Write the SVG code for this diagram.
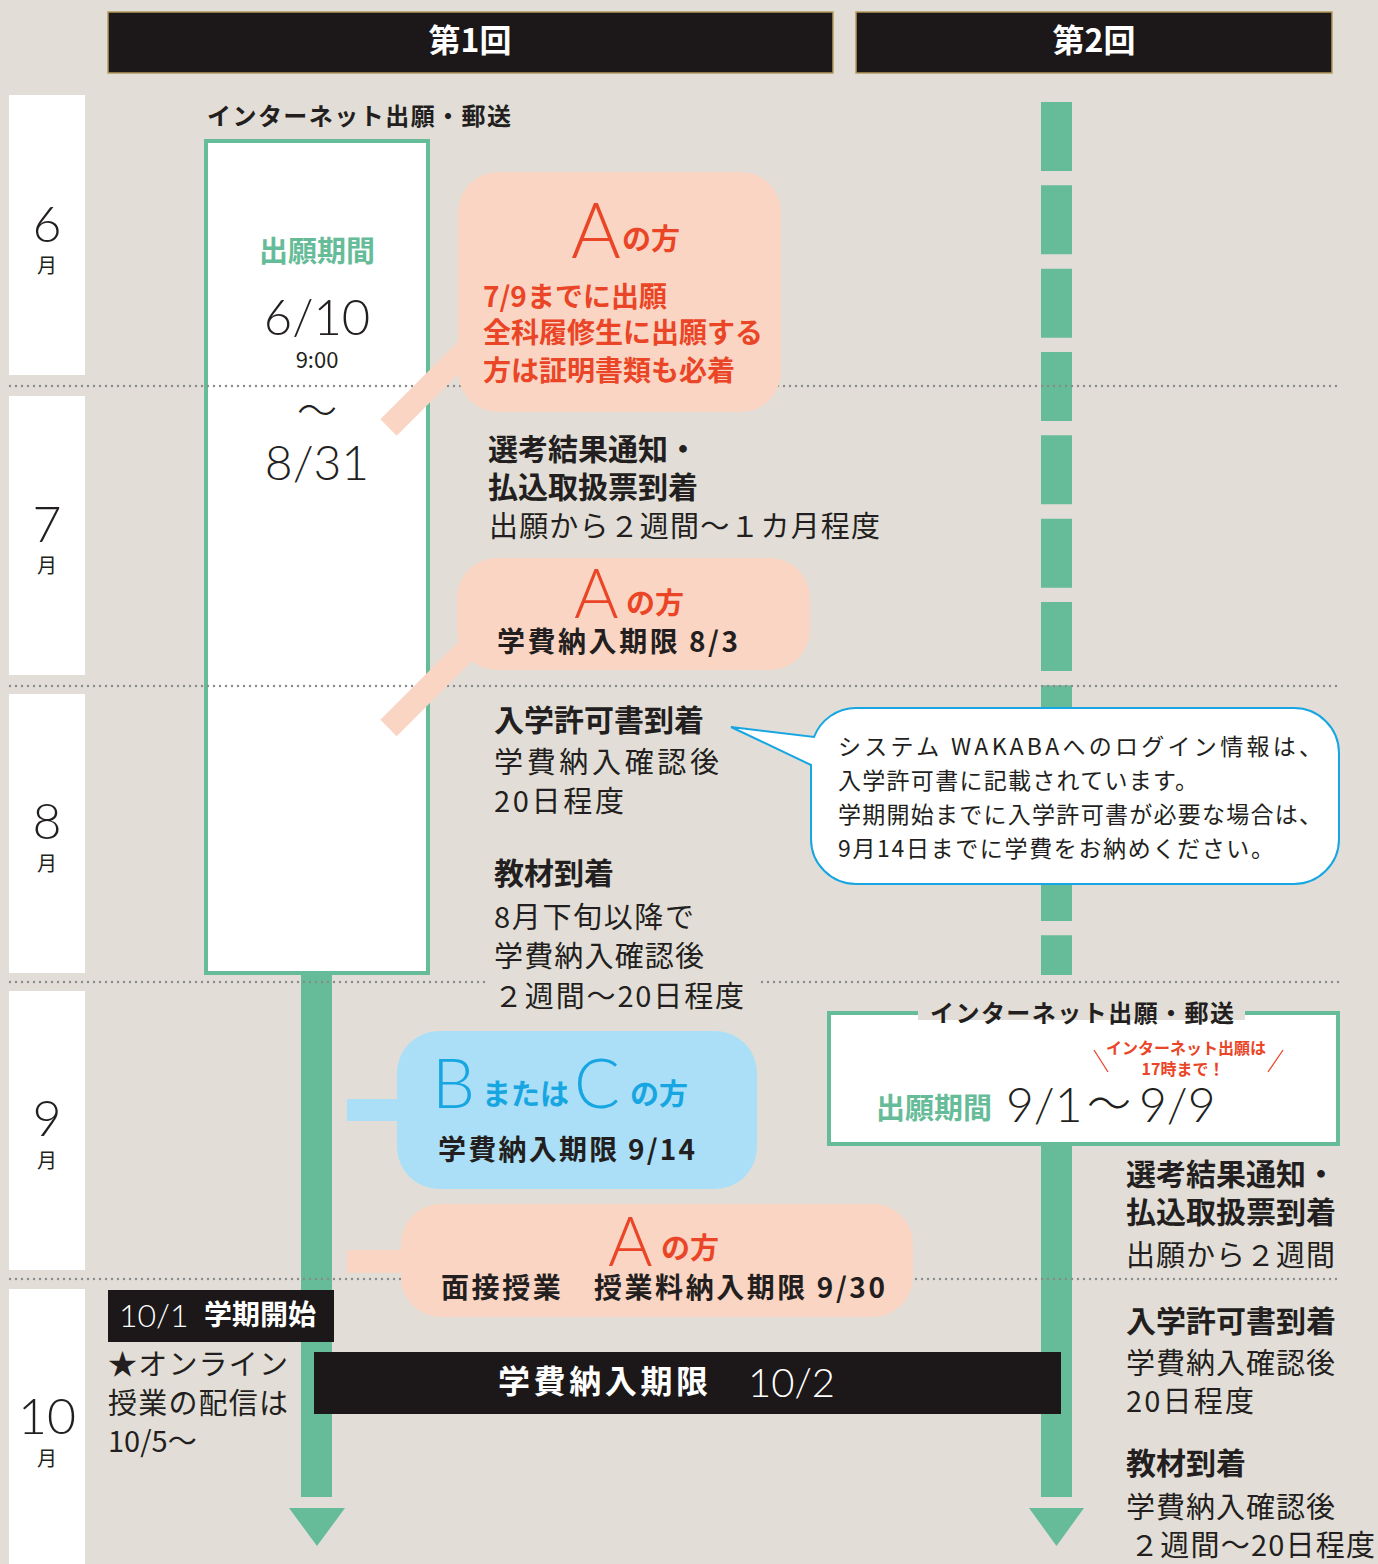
<svg xmlns="http://www.w3.org/2000/svg" width="1378" height="1564" viewBox="0 0 1378 1564">
<style>
text{font-family:"Noto Sans CJK JP","Noto Sans",sans-serif;fill:#231f20}
.b{font-weight:700}
.lt{font-family:Lato,"Noto Sans CJK JP",sans-serif;font-weight:300}
.red{fill:#ea4526}
.blu{fill:#17a6e2}
.grn{fill:#66bc98}
.wht{fill:#fff}
.mon{fill:#fff}
.dot{stroke:#8a8a8a;stroke-width:2.4;stroke-dasharray:0 6;stroke-linecap:round;fill:none}
.sal{fill:#fbd5c3}
.lb{fill:#aadff7}
.hdr{fill:#1c1718;stroke:#b59a5e;stroke-width:1.5}
.gbox{fill:#fff;stroke:#66bc98;stroke-width:4}
.gline{fill:#66bc98}
</style>
<rect width="1378" height="1564" fill="#e2ded7"/>
<g id="months">
<rect class="mon" x="9" y="95" width="76" height="280"/>
<rect class="mon" x="9" y="396" width="76" height="279"/>
<rect class="mon" x="9" y="694" width="76" height="279"/>
<rect class="mon" x="9" y="991" width="76" height="279"/>
<rect class="mon" x="9" y="1289" width="76" height="275"/>
<g text-anchor="middle">
<text class="lt" x="47" y="242" font-size="50">6</text><text x="47" y="273" font-size="20">月</text>
<text class="lt" x="47" y="542" font-size="50">7</text><text x="47" y="573" font-size="20">月</text>
<text class="lt" x="47" y="839" font-size="50">8</text><text x="47" y="871" font-size="20">月</text>
<text class="lt" x="47" y="1136" font-size="50">9</text><text x="47" y="1168" font-size="20">月</text>
<text class="lt" x="47" y="1434" font-size="50">10</text><text x="47" y="1466" font-size="20">月</text>
</g>
</g>
<g id="header1"><rect class="hdr" x="108" y="12" width="725" height="61"/><text class="b wht" x="470" y="52" font-size="32" text-anchor="middle">第1回</text></g>
<g id="header2"><rect class="hdr" x="856" y="12" width="476" height="61"/><text class="b wht" x="1094" y="52" font-size="32" text-anchor="middle">第2回</text></g>

<g id="connectors">
<rect class="gline" x="301" y="973" width="31" height="524"/>
<polygon class="gline" points="289,1508 345,1508 317,1546"/>
<line x1="1056.5" y1="102" x2="1056.5" y2="975" stroke="#66bc98" stroke-width="31" stroke-dasharray="69 14.33"/>
<rect class="gline" x="1041" y="1144" width="31" height="353"/>
<polygon class="gline" points="1029,1508 1084,1508 1056.5,1546"/>
</g>

<g id="period1">
<text class="b" x="207" y="125" font-size="24" textLength="304" lengthAdjust="spacing">インターネット出願・郵送</text>
<rect class="gbox" x="206" y="141" width="222" height="832"/>
</g>

<g id="dotted">
<line class="dot" x1="10" y1="386" x2="1340" y2="386"/>
<line class="dot" x1="10" y1="686" x2="1340" y2="686"/>
<line class="dot" x1="10" y1="982" x2="490" y2="982"/>
<line class="dot" x1="762" y1="982" x2="1340" y2="982"/>
<line class="dot" x1="10" y1="1279" x2="1340" y2="1279"/>
</g>

<g id="period1-text" text-anchor="middle">
<text class="b grn" x="317" y="262" font-size="29">出願期間</text>
<text class="lt" x="317" y="335" font-size="49">6/10</text>
<text x="317" y="368" font-size="22">9:00</text>
<text class="lt" x="317" y="425" font-size="40">～</text>
<text class="lt" x="317" y="480" font-size="48">8/31</text>
</g>

<g id="bubbleA1">
<line x1="388.5" y1="427.5" x2="475" y2="341" stroke="#fbd5c3" stroke-width="23"/>
<rect class="sal" x="458" y="172" width="323" height="240" rx="40"/>
<text class="lt red" x="571" y="258" font-size="76">A</text>
<text class="b red" x="622" y="250" font-size="29">の方</text>
<text class="b red" x="483" y="307" font-size="28">7/9までに出願</text>
<text class="b red" x="483" y="343" font-size="28">全科履修生に出願する</text>
<text class="b red" x="483" y="381" font-size="28">方は証明書類も必着</text>
</g>

<g id="result1">
<text class="b" x="488" y="460" font-size="30">選考結果通知・</text>
<text class="b" x="488" y="498" font-size="30">払込取扱票到着</text>
<text x="489" y="537" font-size="29" textLength="391" lengthAdjust="spacing">出願から２週間～１カ月程度</text>
</g>

<g id="bubbleA2">
<line x1="388.5" y1="728" x2="475" y2="641.5" stroke="#fbd5c3" stroke-width="23"/>
<rect class="sal" x="457" y="558" width="353" height="112" rx="40"/>
<text class="lt red" x="574" y="618" font-size="68">A</text>
<text class="b red" x="626" y="614" font-size="29">の方</text>
<text class="b" x="497" y="652" font-size="28" textLength="241" lengthAdjust="spacing">学費納入期限 8/3</text>
</g>

<g id="admit1">
<text class="b" x="494" y="731" font-size="30">入学許可書到着</text>
<text x="494" y="773" font-size="29" textLength="225" lengthAdjust="spacing">学費納入確認後</text>
<text x="494" y="812" font-size="29" textLength="130" lengthAdjust="spacing">20日程度</text>
<text class="b" x="494" y="884" font-size="30">教材到着</text>
<text x="494" y="928" font-size="29" textLength="200" lengthAdjust="spacing">8月下旬以降で</text>
<text x="494" y="967" font-size="29" textLength="210" lengthAdjust="spacing">学費納入確認後</text>
<text x="494" y="1007" font-size="29" textLength="250" lengthAdjust="spacing">２週間～20日程度</text>
</g>

<g id="callout">
<path d="M856,708 H1294 A45,45 0 0 1 1339,753 V839 A45,45 0 0 1 1294,884 H856 A45,45 0 0 1 811,839 V765 L731,727 L814,737 A45,45 0 0 1 856,708 Z" fill="#fff" stroke="#17a6e2" stroke-width="2"/>
<text x="838" y="755" font-size="23" fill="#333" textLength="484" lengthAdjust="spacing">システム WAKABAへのログイン情報は、</text>
<text x="838" y="789" font-size="23" fill="#333" textLength="360" lengthAdjust="spacing">入学許可書に記載されています。</text>
<text x="838" y="823" font-size="23" fill="#333" textLength="484" lengthAdjust="spacing">学期開始までに入学許可書が必要な場合は、</text>
<text x="838" y="857" font-size="23" fill="#333" textLength="436" lengthAdjust="spacing">9月14日までに学費をお納めください。</text>
</g>

<g id="period2">
<rect class="gbox" x="829" y="1013" width="509" height="131"/>
<rect x="918" y="1006" width="327" height="14" fill="#e2ded7"/>
<text class="b" x="930" y="1022" font-size="24" textLength="304" lengthAdjust="spacing">インターネット出願・郵送</text>
<text class="b red" x="1186" y="1054" font-size="16" text-anchor="middle">インターネット出願は</text>
<text class="b red" x="1183" y="1075" font-size="16" text-anchor="middle">17時まで！</text>
<line x1="1094" y1="1050" x2="1108" y2="1072" stroke="#ea4526" stroke-width="1.3"/>
<line x1="1283" y1="1050" x2="1268" y2="1072" stroke="#ea4526" stroke-width="1.3"/>
<text class="b grn" x="876" y="1119" font-size="29">出願期間</text>
<text class="lt" x="1006" y="1122" font-size="48">9/1</text>
<text class="lt" x="1087" y="1120" font-size="44">～</text>
<text class="lt" x="1139" y="1122" font-size="48">9/9</text>
</g>

<g id="bubbleBC">
<rect class="lb" x="347" y="1099" width="60" height="22"/>
<rect class="lb" x="397" y="1031" width="360" height="158" rx="42"/>
<text class="lt blu" x="432" y="1108" font-size="68">B</text>
<text class="b blu" x="482" y="1105" font-size="29">または</text>
<text class="lt blu" x="574" y="1108" font-size="68">C</text>
<text class="b blu" x="630" y="1105" font-size="29">の方</text>
<text class="b" x="438" y="1160" font-size="28" textLength="257" lengthAdjust="spacing">学費納入期限 9/14</text>
</g>

<g id="bubbleA3">
<rect class="sal" x="347" y="1250" width="60" height="23"/>
<rect class="sal" x="401" y="1204" width="512" height="113" rx="40"/>
<text class="lt red" x="608" y="1266" font-size="68">A</text>
<text class="b red" x="661" y="1259" font-size="29">の方</text>
<text class="b" x="441" y="1298" font-size="28" textLength="444" lengthAdjust="spacing">面接授業　授業料納入期限 9/30</text>
</g>

<g id="result2">
<text class="b" x="1126" y="1185" font-size="30">選考結果通知・</text>
<text class="b" x="1126" y="1223" font-size="30">払込取扱票到着</text>
<text x="1126" y="1266" font-size="29" textLength="209" lengthAdjust="spacing">出願から２週間</text>
<text class="b" x="1126" y="1332" font-size="30">入学許可書到着</text>
<text x="1126" y="1374" font-size="29" textLength="209" lengthAdjust="spacing">学費納入確認後</text>
<text x="1126" y="1412" font-size="29" textLength="128" lengthAdjust="spacing">20日程度</text>
<text class="b" x="1126" y="1474" font-size="30">教材到着</text>
<text x="1126" y="1518" font-size="29" textLength="209" lengthAdjust="spacing">学費納入確認後</text>
<text x="1130" y="1556" font-size="29" textLength="245" lengthAdjust="spacing">２週間～20日程度</text>
</g>

<g id="term-start">
<rect x="108" y="1290" width="226" height="52" fill="#1c1718"/>
<text class="lt wht" x="119" y="1327" font-size="32">10/1</text>
<text class="b wht" x="204" y="1325" font-size="28">学期開始</text>
<text x="108" y="1375" font-size="29" textLength="180" lengthAdjust="spacing">★オンライン</text>
<text x="108" y="1414" font-size="29" textLength="180" lengthAdjust="spacing">授業の配信は</text>
<text x="108" y="1452" font-size="29">10/5～</text>
</g>

<g id="fee-deadline">
<rect x="314" y="1352" width="747" height="62" fill="#1c1718"/>
<text class="b wht" x="498" y="1393" font-size="32" textLength="210" lengthAdjust="spacing">学費納入期限</text>
<text class="lt wht" x="748" y="1397" font-size="40">10/2</text>
</g>
</svg>
